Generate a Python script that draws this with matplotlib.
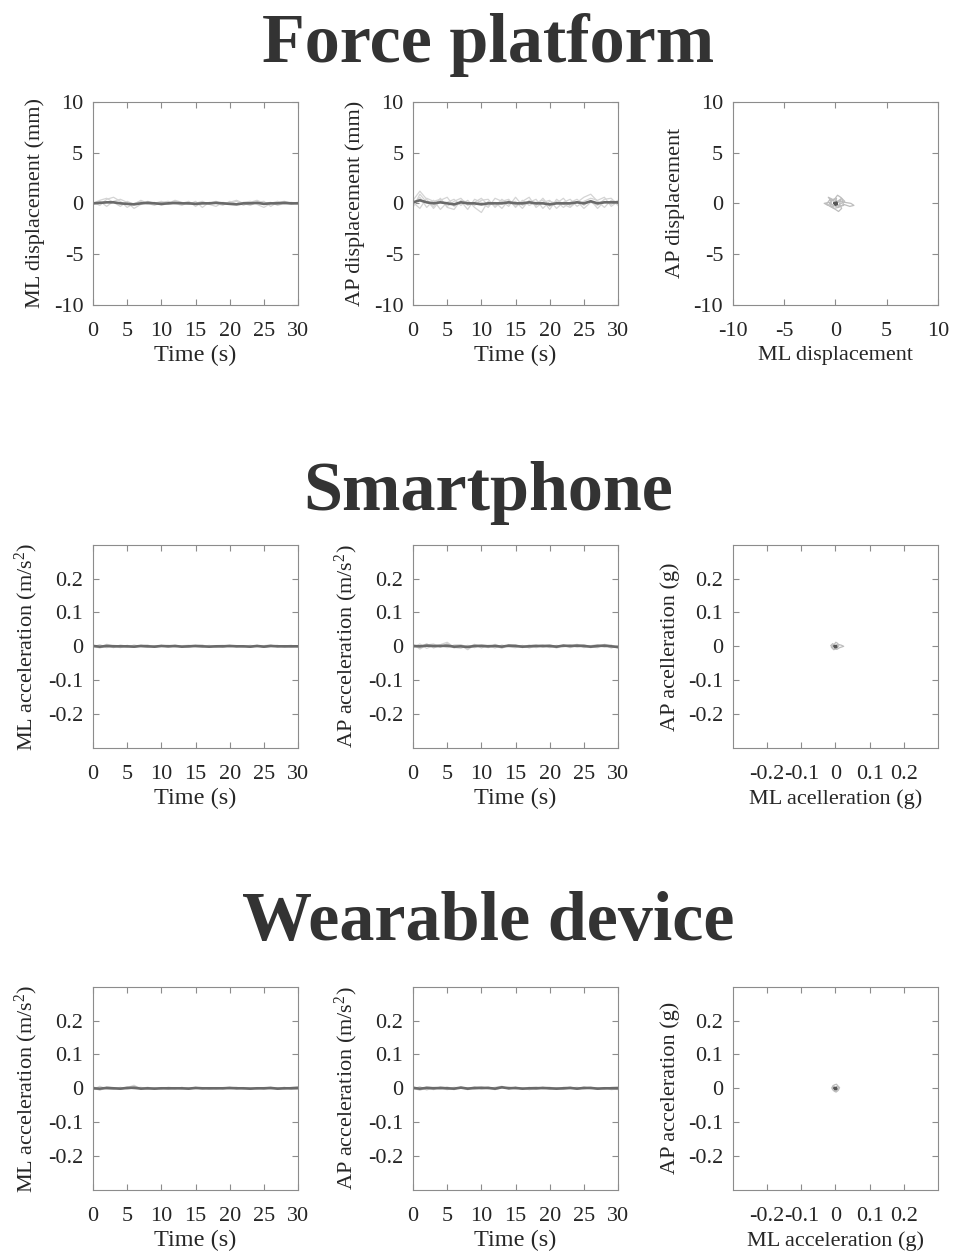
import matplotlib
matplotlib.use('Agg')
import matplotlib.pyplot as plt

# time axis (s), one sample per second
time = list(range(31))

# Force platform, ML displacement (mm): single trials and mean
fp_ml_1 = [0.0, 0.3, 0.5, 0.1, -0.3, 0.2, -0.1, 0.3, 0.0, -0.2, 0.1, 0.2, -0.1, 0.0, 0.2, -0.3, 0.1, 0.0, 0.2, -0.1, 0.1, 0.3, 0.0, -0.2, 0.1, 0.2, -0.3, 0.1, 0.2, 0.0, 0.1]
fp_ml_2 = [0.1, -0.2, 0.4, 0.6, 0.2, -0.4, 0.0, 0.2, -0.1, 0.1, -0.2, 0.0, 0.3, 0.1, -0.1, 0.2, -0.4, 0.1, 0.0, -0.2, 0.2, -0.1, 0.1, 0.2, -0.1, -0.4, 0.0, 0.2, -0.1, 0.1, 0.0]
fp_ml_3 = [-0.1, 0.2, -0.3, 0.2, 0.4, 0.1, -0.5, -0.1, 0.2, 0.0, 0.2, -0.1, 0.0, -0.2, 0.1, 0.0, 0.2, -0.1, -0.3, 0.1, 0.0, 0.2, -0.2, 0.1, 0.3, 0.0, 0.1, -0.2, 0.0, -0.1, 0.1]
fp_ml_mean = [0.0, 0.05, 0.1, 0.1, 0.0, -0.05, -0.1, 0.0, 0.05, 0.0, -0.05, 0.0, 0.05, 0.0, 0.0, -0.05, 0.0, 0.0, 0.05, 0.0, -0.05, -0.1, 0.0, 0.0, 0.05, -0.05, 0.0, 0.0, 0.05, 0.0, 0.0]

# Force platform, AP displacement (mm)
fp_ap_1 = [0.3, 1.2, 0.4, -0.5, 0.3, 0.6, -0.3, 0.2, -0.6, 0.4, 0.1, -0.4, 0.5, 0.2, -0.3, 0.6, -0.2, 0.1, 0.4, -0.5, 0.2, 0.0, 0.5, -0.3, 0.1, 0.6, 0.9, 0.2, -0.4, 0.3, 0.1]
fp_ap_2 = [-0.2, 0.6, -0.4, 0.3, -0.6, 0.1, 0.4, -0.2, 0.3, -0.4, -0.9, 0.2, -0.3, 0.4, -0.1, 0.2, -0.5, 0.3, -0.2, 0.5, -0.3, 0.2, -0.4, 0.1, 0.4, -0.2, 0.3, -0.5, 0.2, -0.1, 0.3]
fp_ap_3 = [0.1, -0.5, 0.5, 0.2, 0.4, -0.3, 0.2, 0.5, -0.2, 0.1, 0.5, -0.2, 0.1, -0.5, 0.3, -0.3, 0.2, 0.6, -0.4, 0.1, 0.3, -0.5, 0.1, 0.4, -0.3, 0.2, 0.5, 0.3, 0.6, -0.3, 0.2]
fp_ap_4 = [-0.4, 0.9, 0.1, -0.3, 0.5, -0.4, -0.6, 0.3, 0.1, -0.2, 0.3, 0.4, -0.4, 0.2, 0.4, -0.4, 0.3, -0.2, 0.1, 0.3, -0.6, 0.4, -0.1, -0.4, 0.2, -0.5, 0.1, -0.2, 0.4, 0.5, -0.2]
fp_ap_mean = [0.1, 0.3, 0.1, 0.0, 0.1, 0.0, -0.1, 0.1, 0.0, 0.0, -0.1, 0.0, 0.0, 0.0, 0.1, 0.0, 0.0, 0.1, 0.0, 0.0, -0.1, 0.0, 0.0, 0.0, 0.1, 0.0, 0.2, 0.0, 0.1, 0.1, 0.1]

# Force platform, stabilogram (ML vs AP)
fp_cop_x_1 = [0.0, 0.4, 0.9, 1.5, 1.8, 1.4, 0.8, 0.3, -0.2, -0.6, -1.1, -0.7, -0.3, 0.1, 0.0]
fp_cop_y_1 = [0.0, 0.2, 0.1, 0.0, -0.2, -0.3, -0.1, -0.4, -0.2, 0.1, 0.0, -0.2, 0.3, 0.5, 0.0]
fp_cop_x_2 = [0.0, -0.3, -0.7, -0.4, -0.5, 0.0, 0.3, 0.6, 0.4, 0.9, 0.5, 0.2, -0.1, -0.6, -0.9, -0.3, 0.0]
fp_cop_y_2 = [0.0, 0.4, 0.6, 0.2, -0.3, -0.6, -0.8, -0.5, -0.1, 0.2, 0.6, 0.8, 0.4, 0.3, -0.1, -0.4, 0.0]
fp_cop_x_3 = [0.1, 0.5, 0.3, -0.2, -0.5, -0.2, 0.2, 0.6, 0.8, 0.4, 0.0]
fp_cop_y_3 = [0.0, 0.3, -0.4, -0.5, 0.1, 0.4, 0.2, 0.5, -0.2, -0.3, 0.0]
fp_cop_mean_x = [-0.1, 0.1, 0.15, 0.0, -0.1, 0.05]
fp_cop_mean_y = [0.0, 0.1, -0.1, -0.15, 0.05, 0.0]

# Smartphone, ML acceleration (m/s^2)
sp_ml_1 = [0.004, -0.003, 0.006, 0.002, -0.004, 0.003, -0.002, 0.001, 0.004, -0.003, 0.002, -0.001, 0.003, 0.000, -0.003, 0.002, 0.004, -0.002, 0.001, -0.003, 0.002, 0.000, -0.002, 0.003, -0.001, 0.002, 0.004, -0.002, 0.001, 0.003, -0.002]
sp_ml_2 = [-0.002, 0.005, -0.004, 0.003, 0.001, -0.003, 0.004, -0.001, -0.003, 0.002, 0.000, 0.003, -0.002, 0.002, 0.003, -0.001, -0.002, 0.003, -0.003, 0.001, 0.003, -0.002, 0.002, -0.003, 0.002, -0.002, 0.000, 0.003, -0.003, 0.000, 0.002]
sp_ml_3 = [0.001, -0.005, 0.002, -0.004, 0.004, 0.000, -0.003, 0.003, 0.001, -0.002, 0.003, -0.003, 0.001, -0.002, 0.001, 0.003, -0.001, 0.000, 0.002, 0.003, -0.002, 0.002, 0.001, -0.001, 0.003, -0.003, 0.002, 0.000, 0.002, -0.002, 0.001]
sp_ml_mean = [0.001, -0.001, 0.001, 0.000, 0.000, 0.000, -0.001, 0.001, 0.000, -0.001, 0.001, 0.000, 0.001, -0.001, 0.000, 0.001, 0.000, -0.001, 0.000, 0.000, 0.001, 0.000, 0.000, -0.001, 0.001, -0.001, 0.001, 0.000, 0.000, 0.000, 0.000]

# Smartphone, AP acceleration (m/s^2)
sp_ap_1 = [0.006, -0.008, 0.004, 0.007, -0.003, 0.009, -0.005, 0.002, -0.010, 0.004, 0.003, -0.004, 0.006, -0.002, 0.003, 0.005, -0.004, 0.002, 0.004, -0.003, 0.002, -0.005, 0.003, 0.001, 0.006, -0.004, 0.002, 0.005, -0.003, 0.004, -0.006]
sp_ap_2 = [-0.005, 0.007, -0.006, 0.002, 0.005, 0.012, -0.003, -0.006, 0.003, -0.004, 0.005, 0.002, -0.005, 0.004, -0.002, -0.004, 0.003, -0.005, 0.001, 0.004, -0.004, 0.003, -0.002, 0.005, -0.003, 0.002, -0.004, 0.003, 0.004, -0.005, 0.002]
sp_ap_3 = [0.002, -0.004, 0.008, -0.005, 0.003, -0.004, 0.004, 0.005, -0.003, 0.006, -0.005, 0.003, 0.002, -0.006, 0.005, 0.001, -0.003, 0.004, -0.004, 0.002, 0.005, -0.002, 0.004, -0.004, 0.003, 0.005, -0.002, -0.004, 0.006, 0.002, -0.003]
sp_ap_mean = [0.001, 0.000, 0.002, 0.001, 0.001, 0.002, -0.001, 0.000, -0.002, 0.001, 0.001, 0.000, 0.001, -0.001, 0.002, 0.001, -0.001, 0.000, 0.001, 0.001, 0.001, -0.001, 0.002, 0.001, 0.002, 0.001, -0.001, 0.001, 0.002, 0.000, -0.002]

# Smartphone, stabilogram (g)
sp_acc_x_1 = [0.0, 0.008, 0.018, 0.024, 0.012, 0.004, -0.006, -0.014, -0.008, 0.0]
sp_acc_y_1 = [0.0, 0.006, 0.003, 0.0, -0.004, -0.009, -0.005, 0.002, 0.008, 0.0]
sp_acc_x_2 = [0.0, -0.007, -0.012, -0.005, 0.004, 0.010, 0.006, 0.001, -0.004, 0.0]
sp_acc_y_2 = [0.0, 0.004, -0.003, -0.010, -0.006, 0.002, 0.009, 0.012, 0.005, 0.0]
sp_acc_mean_x = [-0.002, 0.002, 0.003, -0.001, -0.003, 0.001]
sp_acc_mean_y = [0.0, 0.002, -0.002, -0.003, 0.001, 0.0]

# Wearable device, ML acceleration (m/s^2)
wd_ml_1 = [0.005, -0.004, 0.003, 0.002, -0.003, 0.002, 0.009, -0.002, 0.001, -0.003, 0.002, 0.000, -0.002, 0.003, -0.001, 0.002, -0.003, 0.001, 0.002, -0.002, 0.001, 0.003, -0.002, 0.000, 0.002, -0.003, 0.001, 0.002, -0.002, 0.003, 0.005]
wd_ml_2 = [-0.004, 0.006, -0.002, -0.003, 0.003, -0.002, 0.001, 0.003, -0.003, 0.002, -0.002, 0.003, 0.001, -0.002, 0.002, -0.001, 0.002, -0.003, 0.000, 0.002, -0.002, 0.000, 0.002, -0.003, 0.001, 0.002, -0.002, 0.000, 0.003, -0.002, -0.003]
wd_ml_3 = [0.002, -0.006, 0.004, 0.001, -0.001, 0.004, -0.003, 0.000, 0.003, -0.001, 0.001, -0.003, 0.002, 0.000, -0.002, 0.003, 0.000, 0.002, -0.002, 0.001, 0.003, -0.002, 0.001, 0.002, -0.002, 0.001, 0.003, -0.003, 0.001, -0.001, 0.004]
wd_ml_mean = [0.000, -0.001, 0.001, 0.000, -0.001, 0.001, 0.002, -0.001, 0.000, -0.001, 0.000, 0.000, 0.000, 0.000, -0.001, 0.001, 0.000, 0.000, 0.000, 0.000, 0.001, 0.000, 0.000, -0.001, 0.000, 0.000, 0.001, -0.001, 0.000, 0.000, 0.001]

# Wearable device, AP acceleration (m/s^2)
wd_ap_1 = [0.006, -0.004, 0.005, 0.002, -0.003, 0.004, -0.002, 0.003, -0.004, 0.002, 0.005, -0.001, 0.003, 0.006, -0.002, 0.003, -0.003, 0.002, 0.004, -0.002, 0.001, -0.003, 0.003, 0.002, -0.002, 0.004, -0.001, 0.002, -0.003, 0.003, 0.005]
wd_ap_2 = [-0.003, 0.005, -0.005, 0.003, 0.001, -0.004, 0.003, 0.000, 0.002, -0.003, 0.001, 0.004, -0.003, 0.001, 0.004, -0.002, 0.002, -0.004, 0.000, 0.003, -0.003, 0.002, -0.001, 0.004, -0.003, 0.001, 0.003, -0.002, 0.002, -0.004, -0.002]
wd_ap_3 = [0.001, -0.006, 0.002, -0.004, 0.004, 0.001, -0.004, 0.004, -0.001, 0.004, -0.002, 0.001, -0.004, 0.003, -0.001, 0.003, -0.002, 0.003, -0.003, 0.001, 0.003, 0.000, -0.003, 0.001, 0.003, -0.002, 0.002, -0.003, 0.002, 0.001, -0.004]
wd_ap_mean = [0.001, -0.001, 0.001, 0.000, 0.001, 0.000, -0.001, 0.002, -0.001, 0.001, 0.001, 0.001, -0.001, 0.003, 0.000, 0.001, -0.001, 0.000, 0.000, 0.001, 0.000, -0.001, 0.000, 0.001, -0.001, 0.001, 0.001, -0.001, 0.000, 0.000, 0.000]

# Wearable device, stabilogram (g)
wd_acc_x_1 = [0.0, 0.006, 0.012, 0.008, 0.002, -0.005, -0.011, -0.007, -0.002, 0.0]
wd_acc_y_1 = [0.0, 0.007, 0.002, -0.006, -0.011, -0.007, 0.001, 0.008, 0.004, 0.0]
wd_acc_x_2 = [0.0, -0.008, -0.004, 0.003, 0.010, 0.005, -0.001, -0.009, -0.003, 0.0]
wd_acc_y_2 = [0.0, 0.003, 0.010, 0.012, 0.003, -0.004, -0.010, -0.003, 0.005, 0.0]
wd_acc_mean_x = [-0.002, 0.002, 0.003, -0.001, -0.003, 0.001]
wd_acc_mean_y = [0.0, 0.002, -0.002, -0.003, 0.001, 0.0]

titles = ['Force platform', 'Smartphone', 'Wearable device']
time_ticks = [0, 5, 10, 15, 20, 25, 30]
disp_ticks = [-10, -5, 0, 5, 10]
acc_ticks = [-0.2, -0.1, 0, 0.1, 0.2]
acc_tick_labels = ['-0.2', '-0.1', '0', '0.1', '0.2']

LIGHT = '#d4d4d4'
DARK = '#6a6a6a'
TEXT = '#262626'
FRAME = '#8c8c8c'

plt.rcParams['font.family'] = ['Liberation Serif', 'DejaVu Serif']
plt.rcParams['mathtext.fontset'] = 'custom'
plt.rcParams['mathtext.rm'] = 'Liberation Serif'
plt.rcParams['mathtext.it'] = 'Liberation Serif:italic'
plt.rcParams['font.size'] = 16


# style sets the MATLAB-like box, inward ticks on all sides
def style(ax):
	for s in ax.spines.values():
		s.set_color(FRAME)
		s.set_linewidth(0.8)
	ax.tick_params(direction='in', top=True, right=True, length=4, width=0.8,
		color=FRAME, labelcolor=TEXT, labelsize=16)
	ax.tick_params(axis='x', pad=12)
	ax.tick_params(axis='y', pad=7)


# plot_time draws single trials in light gray and the mean in dark gray
def plot_time(ax, trials, mean, ylim, yticks, yticklabels, ylabel):
	for tr in trials:
		ax.plot(time, tr, color=LIGHT, lw=0.9)
	ax.plot(time, mean, color=DARK, lw=1.9)
	ax.set_xlim(0, 30)
	ax.set_ylim(*ylim)
	ax.set_xticks(time_ticks)
	ax.set_yticks(yticks)
	ax.set_yticklabels(yticklabels)
	ax.set_xlabel('Time (s)', color=TEXT, fontsize=17.5, labelpad=3)
	ax.set_ylabel(ylabel, color=TEXT, fontsize=16, labelpad=6)
	style(ax)


# plot_sway draws the ML vs AP stabilogram
def plot_sway(ax, xs, ys, mx, my, lim, ticks, ticklabels, xlabel, ylabel):
	for x, y in zip(xs, ys):
		ax.plot(x, y, color='#bdbdbd', lw=0.9)
	ax.plot(mx, my, color='#555555', lw=1.6)
	ax.set_xlim(-lim, lim)
	ax.set_ylim(-lim, lim)
	ax.set_xticks(ticks)
	ax.set_yticks(ticks)
	ax.set_xticklabels(ticklabels)
	ax.set_yticklabels(ticklabels)
	ax.set_xlabel(xlabel, color=TEXT, fontsize=16, labelpad=4)
	ax.set_ylabel(ylabel, color=TEXT, fontsize=16, labelpad=6)
	style(ax)


def main():
	fig = plt.figure(figsize=(9.55, 12.51), dpi=100)
	lefts = [0.0974, 0.4325, 0.7675]
	bottoms = [0.7562, 0.4021, 0.0488]
	w, h = 0.2147, 0.1625
	axes = [[fig.add_axes([l, b, w, h]) for l in lefts] for b in bottoms]

	disp_labels = [str(t) for t in disp_ticks]
	plot_time(axes[0][0], [fp_ml_1, fp_ml_2, fp_ml_3], fp_ml_mean, (-10, 10),
		disp_ticks, disp_labels, 'ML displacement (mm)')
	plot_time(axes[0][1], [fp_ap_1, fp_ap_2, fp_ap_3, fp_ap_4], fp_ap_mean, (-10, 10),
		disp_ticks, disp_labels, 'AP displacement (mm)')
	plot_sway(axes[0][2], [fp_cop_x_1, fp_cop_x_2, fp_cop_x_3], [fp_cop_y_1, fp_cop_y_2, fp_cop_y_3],
		fp_cop_mean_x, fp_cop_mean_y, 10, disp_ticks, disp_labels,
		'ML displacement', 'AP displacement')

	plot_time(axes[1][0], [sp_ml_1, sp_ml_2, sp_ml_3], sp_ml_mean, (-0.3, 0.3),
		acc_ticks, acc_tick_labels, r'ML acceleration (m/s$^{2}$)')
	plot_time(axes[1][1], [sp_ap_1, sp_ap_2, sp_ap_3], sp_ap_mean, (-0.3, 0.3),
		acc_ticks, acc_tick_labels, r'AP acceleration (m/s$^{2}$)')
	plot_sway(axes[1][2], [sp_acc_x_1, sp_acc_x_2], [sp_acc_y_1, sp_acc_y_2],
		sp_acc_mean_x, sp_acc_mean_y, 0.3, acc_ticks, acc_tick_labels,
		'ML acelleration (g)', 'AP acelleration (g)')

	plot_time(axes[2][0], [wd_ml_1, wd_ml_2, wd_ml_3], wd_ml_mean, (-0.3, 0.3),
		acc_ticks, acc_tick_labels, r'ML acceleration (m/s$^{2}$)')
	plot_time(axes[2][1], [wd_ap_1, wd_ap_2, wd_ap_3], wd_ap_mean, (-0.3, 0.3),
		acc_ticks, acc_tick_labels, r'AP acceleration (m/s$^{2}$)')
	plot_sway(axes[2][2], [wd_acc_x_1, wd_acc_x_2], [wd_acc_y_1, wd_acc_y_2],
		wd_acc_mean_x, wd_acc_mean_y, 0.3, acc_ticks, acc_tick_labels,
		'ML acceleration (g)', 'AP acceleration (g)')

	# section titles, baselines
	for title, y in zip(titles, [1 - 62 / 1251, 1 - 510 / 1251, 1 - 940 / 1251]):
		fig.text(0.511, y, title, ha='center', va='baseline', fontsize=50.5,
			fontweight='bold', color='#333333')

	fig.savefig('out.png', dpi=100)


if __name__ == '__main__':
	main()
